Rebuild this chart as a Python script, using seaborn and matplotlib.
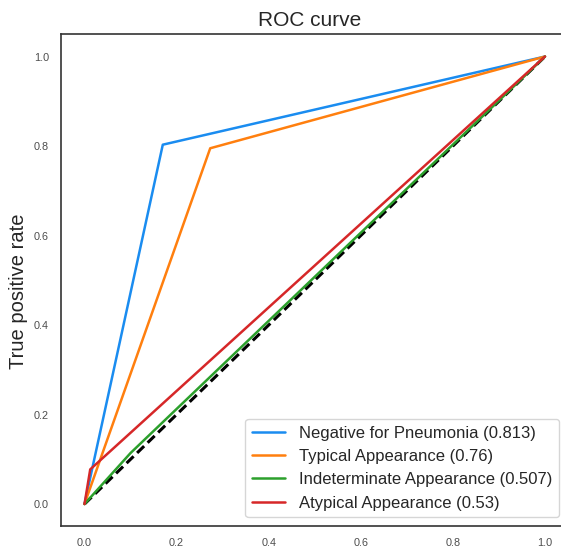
import matplotlib
matplotlib.use("Agg")
import matplotlib.pyplot as plt
import seaborn as sns
import pandas as pd

labels = ["Negative for Pneumonia (0.813)", "Typical Appearance (0.76)",
          "Indeterminate Appearance (0.507)", "Atypical Appearance (0.53)"]
fpr_neg = [0.0, 0.170, 1.0]
tpr_neg = [0.0, 0.803, 1.0]
fpr_typ = [0.0, 0.273, 1.0]
tpr_typ = [0.0, 0.795, 1.0]
fpr_ind = [0.0, 0.100, 1.0]
tpr_ind = [0.0, 0.114, 1.0]
fpr_aty = [0.0, 0.0124, 1.0]
tpr_aty = [0.0, 0.0774, 1.0]
diag = [0.0, 1.0]
colors = ["#1a8cf0", "#ff7f0e", "#2ca02c", "#d62728"]

sns.set_style("white")
plt.rcParams["font.family"] = ["Liberation Sans", "DejaVu Sans"]

rows = []
for lab, xs, ys in zip(labels, [fpr_neg, fpr_typ, fpr_ind, fpr_aty],
                       [tpr_neg, tpr_typ, tpr_ind, tpr_aty]):
    for i, (x, y) in enumerate(zip(xs, ys)):
        rows.append({"curve": lab, "fpr": x, "tpr": y, "order": i})
df = pd.DataFrame(rows)

fig = plt.figure(figsize=(5.61, 5.5), dpi=100)
# the axes extends slightly past the right edge of the picture, as in the reference
ax = fig.add_axes([0.1096, 0.0429, 0.9029, 0.895])

sns.lineplot(data=pd.DataFrame({"x": diag, "y": diag}), x="x", y="y", ax=ax,
             color="black", linestyle=(0, (3.2, 1.6)), linewidth=2.2, sort=False)
sns.lineplot(data=df, x="fpr", y="tpr", hue="curve", hue_order=labels,
             palette=colors, sort=False, estimator=None, linewidth=1.8, ax=ax)

ax.set_xlim(-0.05, 1.05)
ax.set_ylim(-0.05, 1.05)
ax.set_xticks([0.0, 0.2, 0.4, 0.6, 0.8, 1.0])
ax.set_yticks([0.0, 0.2, 0.4, 0.6, 0.8, 1.0])
ax.tick_params(labelsize=7.8, colors="#4d4d4d")
ax.tick_params(axis="x", pad=5.1)
ax.tick_params(axis="y", pad=5.4)
ax.set_xlabel("")
ax.set_ylabel("True positive rate", fontsize=14.5, color="#262626")
ax.yaxis.set_label_coords(-0.066, 0.477)
ax.set_title("ROC curve", fontsize=15, color="#262626", x=0.4906)
for s in ax.spines.values():
    s.set_color("#333333")
    s.set_linewidth(1.2)
ax.legend(loc="lower right", fontsize=12, frameon=True, handlelength=2.0,
          borderaxespad=0.55, labelspacing=0.5)

fig.savefig("out.png", dpi=100)
